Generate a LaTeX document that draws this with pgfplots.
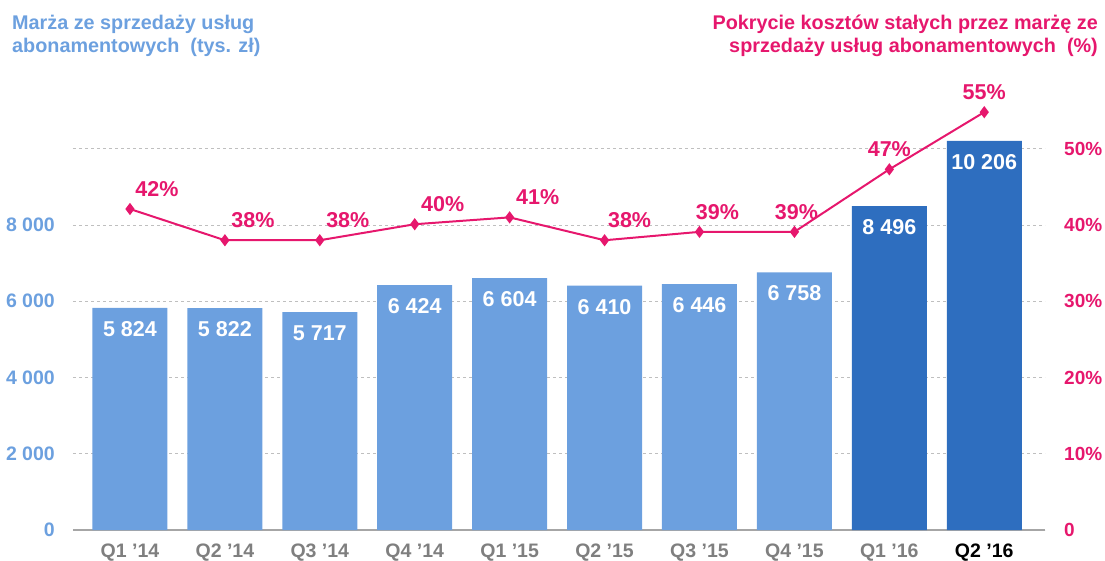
\documentclass[border=0pt]{standalone}
\usepackage{fontspec}
\setmainfont{Liberation Sans}
\usepackage{pgfplots}
\pgfplotsset{compat=1.18}
\usepackage{pgfplotstable}
\definecolor{lblue}{HTML}{6CA0DF}
\definecolor{dblue}{HTML}{2E6EBF}
\definecolor{pinkc}{HTML}{E6176D}
\definecolor{gridgray}{HTML}{BFBFBF}
\definecolor{axgray}{HTML}{A6A6A6}
\definecolor{catgray}{HTML}{7F7F7F}

\pgfplotstableread{
x y lab dx
0 42.1 42 27
1 38.0 38 28
2 38.0 38 28
3 40.1 40 28
4 41.0 41 28
5 38.0 38 25
6 39.1 39 18
7 39.1 39 2
8 47.3 47 0
9 54.8 55 0
}\pctdata

\begin{document}
\begin{tikzpicture}
\path[use as bounding box] (0pt,0pt) rectangle (1105pt,560pt);
\begin{axis}[
 at={(73pt,30pt)}, anchor=south west, scale only axis, width=972pt, height=457.5pt,
 xmin=-0.6, xmax=9.64, ymin=0, ymax=12000,
 scaled y ticks=false,
 separate axis lines, axis x line*=bottom, axis y line*=left,
 x axis line style={axgray, line width=1.5pt, -},
 y axis line style={draw=none},
 major tick length=0pt, tick style={draw=none},
 xtick={0,...,9},
 xticklabels={Q1 ’14, Q2 ’14, Q3 ’14, Q4 ’14, Q1 ’15, Q2 ’15, Q3 ’15, Q4 ’15, Q1 ’16, \textcolor{black}{Q2 ’16}},
 xticklabel style={font=\bfseries\fontsize{19.5}{21}\selectfont, text=catgray, anchor=north, inner sep=0pt, yshift=-14pt},
 ytick={0,2000,4000,6000,8000,10000},
 yticklabels={0,2 000,4 000,6 000,8 000,{}},
 yticklabel style={font=\bfseries\fontsize{19.5}{21}\selectfont, text=lblue, anchor=east, inner sep=0pt, xshift=-18pt},
 ymajorgrids, grid style={gridgray, dash pattern=on 3pt off 3pt, line width=0.8pt},
 ybar, bar width=0.79, bar shift=0pt,
 nodes near coords, point meta=explicit symbolic,
 every node near coord/.append style={font=\bfseries\fontsize{21.5}{24}\selectfont, text=white, anchor=center, yshift=-21pt},
]
\addplot[fill=lblue, draw=none] coordinates {
(0,5824)[5 824] (1,5822)[5 822] (2,5717)[5 717] (3,6424)[6 424] (4,6604)[6 604]
(5,6410)[6 410] (6,6446)[6 446] (7,6758)[6 758]};
\addplot[fill=dblue, draw=none] coordinates {(8,8496)[8 496] (9,10206)[10 206]};
\end{axis}
\begin{axis}[
 at={(73pt,30pt)}, anchor=south west, scale only axis, width=972pt, height=457.5pt,
 xmin=-0.6, xmax=9.64, ymin=0, ymax=60,
 scaled y ticks=false,
 axis x line=none, axis y line*=right, y axis line style={draw=none},
 major tick length=0pt, tick style={draw=none},
 ytick={0,10,...,50}, yticklabels={0,10\%,20\%,30\%,40\%,50\%},
 yticklabel style={font=\bfseries\fontsize{19}{21}\selectfont, text=pinkc, anchor=west, inner sep=0pt, xshift=19pt},
]
\addplot[pinkc, line width=2pt, mark=diamond*, mark size=4.5pt, mark options={solid},
 nodes near coords={\pgfplotspointmeta\%}, point meta=explicit symbolic,
 visualization depends on={\thisrow{dx} \as \dx},
 every node near coord/.append style={font=\bfseries\fontsize{21.5}{24}\selectfont, text=pinkc, anchor=center, xshift=\dx, yshift=20pt}]
 table[x=x, y=y, meta=lab] {\pctdata};
\end{axis}
\node[anchor=base west, text=lblue, font=\bfseries\fontsize{19.8}{24}\selectfont, inner sep=0pt] at (12pt,530pt) {Marża ze sprzedaży usług};
\node[anchor=base west, text=lblue, font=\bfseries\fontsize{19.8}{24}\selectfont, inner sep=0pt] at (12pt,507pt) {abonamentowych~ (tys. zł)};
\node[anchor=base east, text=pinkc, font=\bfseries\fontsize{19.8}{24}\selectfont, inner sep=0pt] at (1098pt,530pt) {Pokrycie kosztów stałych przez marżę ze};
\node[anchor=base east, text=pinkc, font=\bfseries\fontsize{19.8}{24}\selectfont, inner sep=0pt] at (1098pt,507pt) {sprzedaży usług abonamentowych~ (\%)};
\end{tikzpicture}
\end{document}
